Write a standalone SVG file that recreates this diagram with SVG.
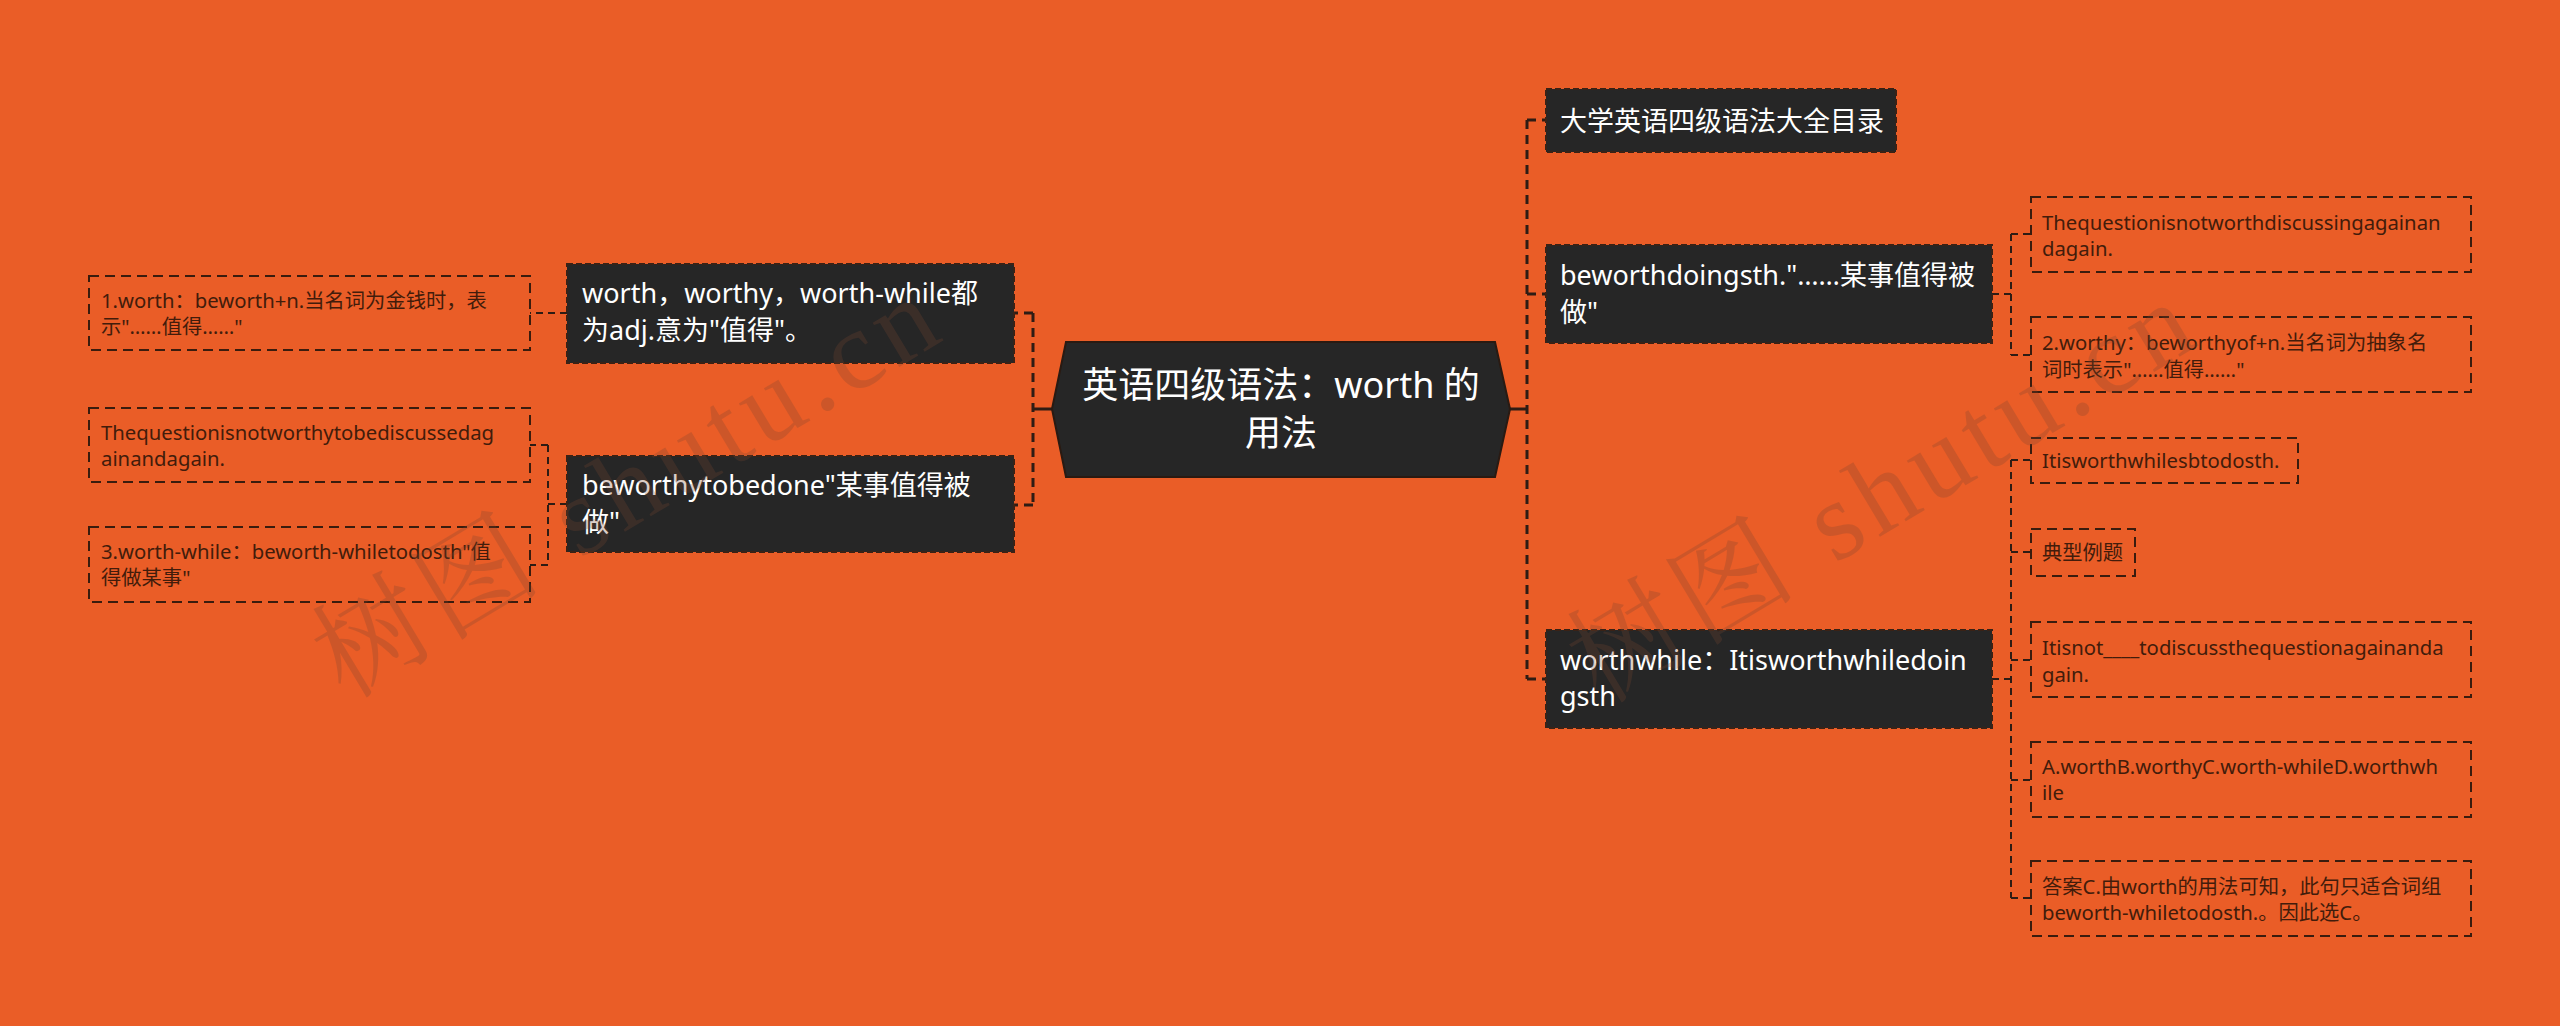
<svg xmlns="http://www.w3.org/2000/svg" width="2560" height="1026" viewBox="0 0 2560 1026">
<style>
.bg{fill:#EA5D27}
.t{font-family:'Noto Sans','Noto Sans CJK SC',sans-serif}
.dark{fill:#262626;stroke:#3a2216;stroke-width:2;stroke-dasharray:6 3}
.dt{fill:#ffffff;font-size:27px}
.ct{fill:#ffffff;font-size:36px;text-anchor:middle}
.leaf{fill:none;stroke:#3a1c0e;stroke-width:2;stroke-dasharray:10 6}
.lt{fill:#421c0b;font-size:20.3px}
.c{fill:none;stroke:#2e1c14;stroke-width:3;stroke-dasharray:9 6}
.cs{fill:none;stroke:#2e1c14;stroke-width:3}
.c2{fill:none;stroke:#2e1c14;stroke-width:2;stroke-dasharray:7 5}
.wm{font-family:'Liberation Serif','Noto Serif CJK SC','Noto Sans CJK SC',serif;font-size:112px;fill:#7a4630;opacity:0.26}
</style>
<rect class="bg" x="0" y="0" width="2560" height="1026"/>
<g id="connectors">
<path class="cs" d="M1052 409H1033M1510 409H1527"/>
<path class="c" d="M1033 313V505M1033 313H1014M1033 505H1014"/>
<path class="c2" d="M567 313H530"/>
<path class="c2" d="M567 504H548M548 445V565M548 445H530M548 565H530"/>
<path class="c" d="M1527 120V679M1527 120H1546M1527 294H1546M1527 679H1546"/>
<path class="c2" d="M1992 294H2011M2011 234V355M2011 234H2031M2011 355H2031"/>
<path class="c2" d="M1992 679H2011M2011 460V898M2011 460H2031M2011 552H2031M2011 660H2031M2011 780H2031M2011 898H2031"/>
</g>
<g id="center">
<polygon points="1052,409 1066,342 1495,342 1510,409 1495,477 1066,477" fill="#262626" stroke="#2a1a12" stroke-width="2"/>
<text class="t ct" x="1281" y="398">英语四级语法：worth 的</text>
<text class="t ct" x="1281" y="446">用法</text>
</g>
<g id="n-left1">
<rect class="dark" x="567" y="264" width="447" height="99"/>
<text class="t dt" x="582" y="303">worth，worthy，worth-while都</text>
<text class="t dt" x="582" y="340">为adj.意为"值得"。</text>
</g>
<g id="n-left2">
<rect class="dark" x="567" y="456" width="447" height="96"/>
<text class="t dt" x="582" y="495">beworthytobedone"某事值得被</text>
<text class="t dt" x="582" y="532">做"</text>
</g>
<g id="leaf-l1">
<rect class="leaf" x="89" y="276" width="441" height="74"/>
<text class="t lt" x="101" y="308">1.worth：beworth+n.当名词为金钱时，表</text>
<text class="t lt" x="101" y="334">示"……值得……"</text>
</g>
<g id="leaf-l2">
<rect class="leaf" x="89" y="408" width="441" height="74"/>
<text class="t lt" x="101" y="440">Thequestionisnotworthytobediscussedag</text>
<text class="t lt" x="101" y="466">ainandagain.</text>
</g>
<g id="leaf-l3">
<rect class="leaf" x="89" y="527" width="441" height="75"/>
<text class="t lt" x="101" y="559">3.worth-while：beworth-whiletodosth"值</text>
<text class="t lt" x="101" y="585">得做某事"</text>
</g>
<g id="n-right1">
<rect class="dark" x="1546" y="89" width="350" height="63"/>
<text class="t dt" x="1560" y="131">大学英语四级语法大全目录</text>
</g>
<g id="n-right2">
<rect class="dark" x="1546" y="245" width="446" height="98"/>
<text class="t dt" x="1560" y="285">beworthdoingsth."……某事值得被</text>
<text class="t dt" x="1560" y="322">做"</text>
</g>
<g id="n-right3">
<rect class="dark" x="1546" y="630" width="446" height="98"/>
<text class="t dt" x="1560" y="670">worthwhile：Itisworthwhiledoin</text>
<text class="t dt" x="1560" y="706">gsth</text>
</g>
<g id="leaf-r1">
<rect class="leaf" x="2031" y="197" width="440" height="75"/>
<text class="t lt" x="2042" y="230">Thequestionisnotworthdiscussingagainan</text>
<text class="t lt" x="2042" y="256">dagain.</text>
</g>
<g id="leaf-r2">
<rect class="leaf" x="2031" y="317" width="440" height="75"/>
<text class="t lt" x="2042" y="350">2.worthy：beworthyof+n.当名词为抽象名</text>
<text class="t lt" x="2042" y="377">词时表示"……值得……"</text>
</g>
<g id="leaf-r3">
<rect class="leaf" x="2031" y="438" width="267" height="45"/>
<text class="t lt" x="2042" y="468">Itisworthwhilesbtodosth.</text>
</g>
<g id="leaf-r4">
<rect class="leaf" x="2031" y="529" width="104" height="47"/>
<text class="t lt" x="2042" y="560">典型例题</text>
</g>
<g id="leaf-r5">
<rect class="leaf" x="2031" y="622" width="440" height="75"/>
<text class="t lt" x="2042" y="655">Itisnot____todiscussthequestionagainanda</text>
<text class="t lt" x="2042" y="682">gain.</text>
</g>
<g id="leaf-r6">
<rect class="leaf" x="2031" y="742" width="440" height="75"/>
<text class="t lt" x="2042" y="774">A.worthB.worthyC.worth-whileD.worthwh</text>
<text class="t lt" x="2042" y="800">ile</text>
</g>
<g id="leaf-r7">
<rect class="leaf" x="2031" y="861" width="440" height="75"/>
<text class="t lt" x="2042" y="894">答案C.由worth的用法可知，此句只适合词组</text>
<text class="t lt" x="2042" y="920">beworth-whiletodosth.。因此选C。</text>
</g>
<g id="watermark">
<text class="wm" transform="translate(345,700) rotate(-31)" textLength="700" lengthAdjust="spacing">树图 shutu.cn</text>
<text class="wm" transform="translate(1600,705) rotate(-31)" textLength="700" lengthAdjust="spacing">树图 shutu.cn</text>
</g>
</svg>
